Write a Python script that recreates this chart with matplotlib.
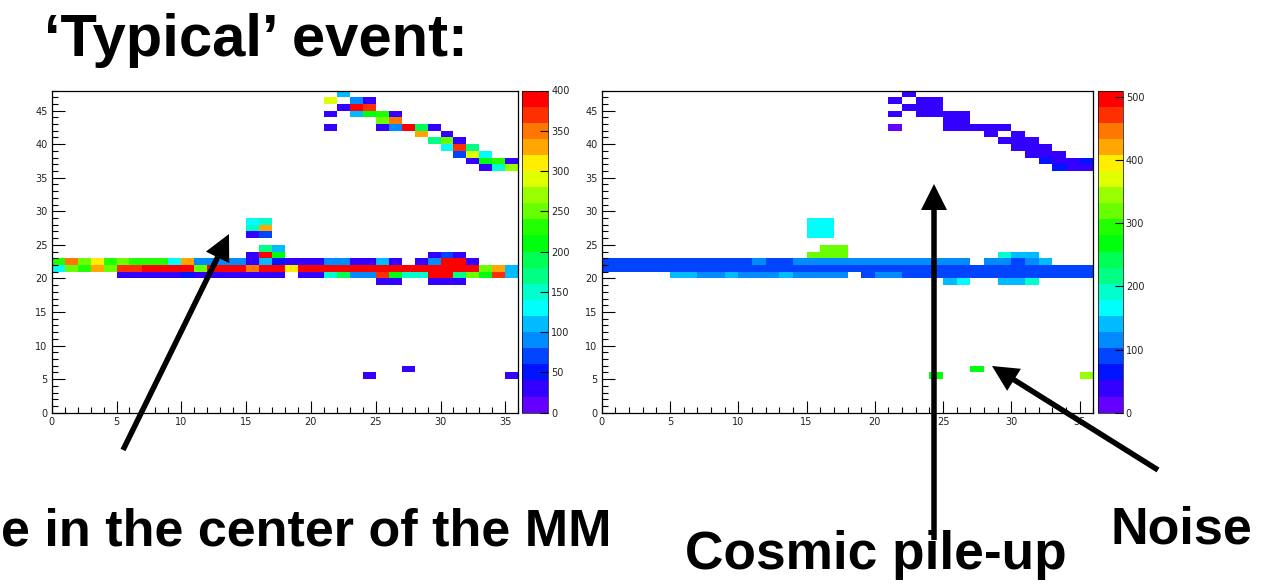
import colorsys
import numpy as np
import matplotlib
matplotlib.use('Agg')
import matplotlib.pyplot as plt
from matplotlib.colors import ListedColormap, BoundaryNorm
from matplotlib.ticker import MultipleLocator
from matplotlib.patches import FancyArrow

# ---- data: bin contents (col, row) of a 36 x 48 strip map ----
# left map: charge, right map: time
left_row22 = [230, 350, 250, 310, 230, 250, 230, 230, 230, 130, 330, 90, 90, 90, 90, 30, 110, 50,
              30, 30, 30, 90, 90, 30, 30, 110, 30, 0, 30, 90, 390, 390, 30, 0, 0, 0]
left_row21 = [130, 250, 225, 330, 250, 370, 370, 390, 390, 390, 390, 250, 390, 390, 390, 350, 390, 390,
              310, 390, 390, 390, 390, 390, 390, 390, 390, 390, 390, 390, 390, 390, 390, 250, 330, 110]
left_row20 = [0, 0, 0, 0, 0, 30, 30, 30, 30, 30, 50, 30, 30, 30, 30, 30, 30, 30,
              0, 30, 30, 150, 190, 90, 90, 370, 210, 150, 150, 390, 390, 170, 250, 210, 370, 110]
left_cells = [(25, 19, 30), (26, 19, 30), (29, 19, 30), (30, 19, 30), (31, 19, 30),
              (15, 23, 30), (16, 23, 390), (17, 23, 210), (29, 23, 30), (30, 23, 60), (31, 23, 30),
              (16, 24, 170), (17, 24, 100),
              (15, 26, 30), (16, 26, 70), (15, 27, 150), (16, 27, 330), (15, 28, 130), (16, 28, 150)]
left_track = [(22, 47, 110), (21, 46, 290), (23, 46, 90), (24, 46, 30),
              (22, 45, 30), (23, 45, 390), (24, 45, 370),
              (21, 44, 30), (23, 44, 110), (24, 44, 210), (25, 44, 225), (26, 44, 30),
              (25, 43, 250), (26, 43, 350),
              (21, 42, 30), (25, 42, 30), (26, 42, 90), (27, 42, 390), (28, 42, 190), (29, 42, 30),
              (28, 41, 330), (30, 41, 30),
              (29, 40, 170), (30, 40, 250), (31, 40, 30),
              (30, 39, 130), (31, 39, 370), (32, 39, 170),
              (31, 38, 70), (32, 38, 290), (33, 38, 130),
              (32, 37, 30), (33, 37, 210), (34, 37, 235), (35, 37, 30),
              (33, 36, 30), (34, 36, 150), (35, 36, 270)]
left_noise = [(24, 5, 30), (27, 6, 30), (35, 5, 30)]

right_row22 = [89, 89, 89, 89, 89, 89, 89, 89, 89, 89, 89, 115, 89, 89, 115, 115, 115, 115,
               115, 115, 115, 115, 115, 115, 115, 115, 115, 0, 115, 115, 89, 115, 140, 0, 0, 0]
right_row21 = [89] * 36
right_row20 = [0, 0, 0, 0, 0, 140, 140, 115, 115, 140, 115, 115, 115, 140, 115, 115, 115, 115,
               0, 89, 115, 115, 89, 89, 89, 89, 89, 89, 89, 89, 89, 89, 89, 89, 89, 89]
right_cells = [(25, 19, 140), (26, 19, 166), (29, 19, 140), (30, 19, 140), (31, 19, 191),
               (15, 23, 319), (16, 23, 319), (17, 23, 319), (29, 23, 191), (30, 23, 140), (31, 23, 140),
               (16, 24, 319), (17, 24, 319),
               (15, 26, 166), (16, 26, 166), (15, 27, 166), (16, 27, 166), (15, 28, 166), (16, 28, 166)]
right_track = [(c, r, 64 if (c, r) in [(32, 37), (33, 36), (35, 37)] else (13 if (c, r) == (21, 42) else 38))
               for c, r, _ in left_track]
right_noise = [(24, 5, 268), (27, 6, 268), (35, 5, 344)]

left_zmax = 400
right_zmax = 510

# ROOT "pretty" palette, 20 contour levels
pal = [colorsys.hls_to_rgb((280 - (k + 1) * 5.6) / 360.0, 0.5, 1.0) for k in range(50)]
cmap = ListedColormap([pal[int((i + 0.99) * 50 / 20)] for i in range(20)])


def make_grid(rows, cells):
    z = np.zeros((48, 36))
    for r, vals in rows.items():
        z[r, :] = vals
    for c, r, v in cells:
        z[r, c] = v
    return np.ma.masked_equal(z, 0)


def draw_map(ax, cax, z, zmax, cstep):
    norm = BoundaryNorm(np.linspace(0, zmax, 21), cmap.N)
    m = ax.pcolormesh(np.arange(37), np.arange(49), z, cmap=cmap, norm=norm)
    ax.set_xlim(0, 36)
    ax.set_ylim(0, 48)
    ax.xaxis.set_major_locator(MultipleLocator(5))
    ax.xaxis.set_minor_locator(MultipleLocator(1))
    ax.yaxis.set_major_locator(MultipleLocator(5))
    ax.yaxis.set_minor_locator(MultipleLocator(1))
    ax.tick_params(which='both', direction='in', top=False, right=False,
                   labelsize=7, labelcolor='#222222', width=0.8)
    ax.tick_params(which='major', length=9, pad=3)
    ax.tick_params(which='minor', length=4)
    for s in ax.spines.values():
        s.set_linewidth(0.9)
    cb = fig.colorbar(m, cax=cax, ticks=np.arange(0, zmax + 1, cstep))
    cb.outline.set_linewidth(0.5)
    cax.tick_params(direction='in', length=6, width=0.8, labelsize=7,
                    labelcolor='#222222', pad=2)
    cax.minorticks_off()


fig = plt.figure(figsize=(12.83, 5.84), dpi=100)
W, H = 1283.0, 584.0


def box(x0, x1, y0, y1):
    return [x0 / W, 1 - y1 / H, (x1 - x0) / W, (y1 - y0) / H]


ax1 = fig.add_axes(box(51.7, 518.3, 90.5, 412.7))
cax1 = fig.add_axes(box(521.7, 548.3, 90.5, 412.7))
ax2 = fig.add_axes(box(601.7, 1093.3, 90.5, 412.7))
cax2 = fig.add_axes(box(1098, 1123, 90.5, 412.7))

draw_map(ax1, cax1, make_grid({22: left_row22, 21: left_row21, 20: left_row20},
                              left_cells + left_track + left_noise), left_zmax, 50)
draw_map(ax2, cax2, make_grid({22: right_row22, 21: right_row21, 20: right_row20},
                              right_cells + right_track + right_noise), right_zmax, 100)

# overlay in pixel coordinates for slide text and arrows
ov = fig.add_axes([0, 0, 1, 1], zorder=10)
ov.set_xlim(0, W)
ov.set_ylim(H, 0)
ov.axis('off')
ov.patch.set_alpha(0)

font = dict(family=['Liberation Sans', 'DejaVu Sans'], weight='bold', color='black')
ov.text(44, 56, '\u2018Typical\u2019 event:', fontsize=43, va='baseline', **font)
ov.text(1, 545, 'e in the center of the MM', fontsize=37.5, va='baseline', ha='left', **font)
ov.text(685, 569, 'Cosmic pile-up', fontsize=38.3, va='baseline', **font)
ov.text(1110, 543, 'Noise', fontsize=37.5, va='baseline', **font)


def arrow(x0, y0, x1, y1):
    ov.add_patch(FancyArrow(x0, y0, x1 - x0, y1 - y0, width=5.5, head_width=26, head_length=26,
                            length_includes_head=True, color='black', lw=0))


arrow(123, 450, 229, 234)
arrow(934, 540, 934, 184)
arrow(1158, 470, 992, 366)

fig.savefig('out.png', dpi=100)
